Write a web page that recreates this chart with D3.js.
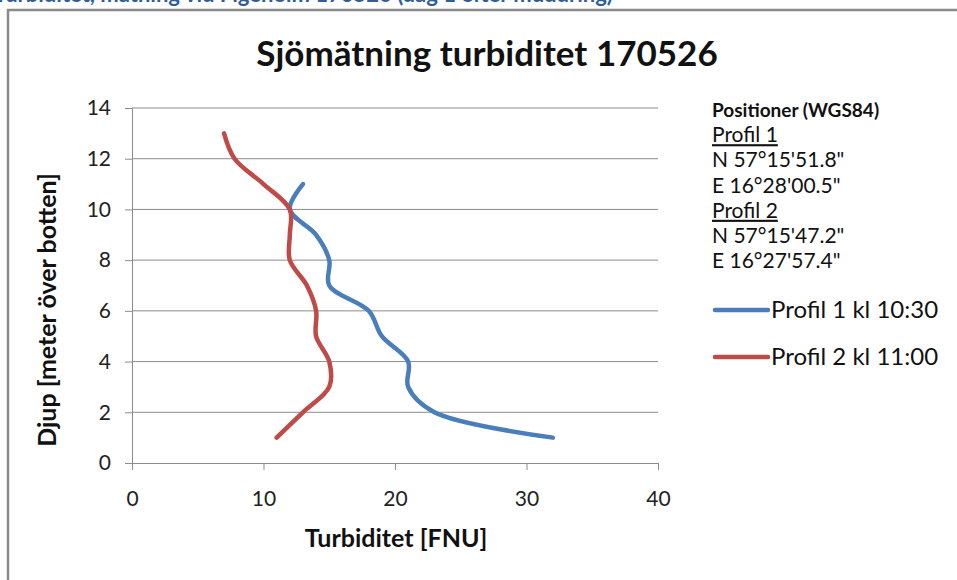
<!DOCTYPE html>
<html>
<head>
<meta charset="utf-8">
<script src="https://cdn.jsdelivr.net/npm/d3@7"></script>
<style>
  html, body { margin: 0; padding: 0; background: #fff; }
  svg { display: block; }
  text { font-family: Lato, "Open Sans", sans-serif; }
</style>
</head>
<body>
<svg id="chart" width="957" height="580"></svg>
<script>
// ---- data ----
const chartTitle = "Sjömätning turbiditet 170526";
const xAxisTitle = "Turbiditet [FNU]";
const yAxisTitle = "Djup [meter över botten]";
const xTicks = [0, 10, 20, 30, 40];
const yTicks = [0, 2, 4, 6, 8, 10, 12, 14];

const profil1Depth = [1, 2, 3, 4, 5, 6, 7, 8, 9, 10, 11];
const profil1Turb  = [32, 23, 21, 21, 19, 18, 15, 15, 14, 12, 13];
const profil2Depth = [1, 2, 3, 4, 5, 6, 7, 8, 9, 10, 11, 12, 13];
const profil2Turb  = [11, 13, 15, 15, 14, 14, 13.3, 12, 12, 12, 10, 7.8, 7];

const seriesNames = ["Profil 1 kl 10:30", "Profil 2 kl 11:00"];
const seriesColors = ["#4a7ebb", "#be4b48"];

const infoLines = [
  { t: "Positioner (WGS84)", bold: true },
  { t: "Profil 1", u: true },
  { t: "N 57°15'51.8\"" },
  { t: "E 16°28'00.5\"" },
  { t: "Profil 2", u: true },
  { t: "N 57°15'47.2\"" },
  { t: "E 16°27'57.4\"" }
];

// ---- drawing ----
const svg = d3.select("#chart");

// cropped caption above the frame
svg.append("text")
  .attr("x", -6).attr("y", 2)
  .attr("fill", "#2f5d9c").attr("font-weight", "bold").attr("font-size", 22)
  .text("Turbiditet, mätning vid Figeholm 170526 (dag 1 efter muddring)");

// frame
svg.append("path")
  .attr("d", "M8,580 L8,10 L957,10")
  .attr("fill", "none").attr("stroke", "#8a8a8a").attr("stroke-width", 2.5);

const x = d3.scaleLinear().domain([0, 40]).range([132, 658]);
const y = d3.scaleLinear().domain([0, 14]).range([463, 108]);

// gridlines
svg.append("g").selectAll("line").data(yTicks.filter(d => d > 0)).join("line")
  .attr("x1", x(0)).attr("x2", x(40))
  .attr("y1", d => y(d)).attr("y2", d => y(d))
  .attr("stroke", "#8c8c8c").attr("stroke-width", 1);

// y axis
const yAxis = svg.append("g").attr("transform", `translate(${x(0)},0)`)
  .call(d3.axisLeft(y).tickValues(yTicks).tickSize(7).tickPadding(14).tickFormat(d3.format("d")));
yAxis.select(".domain").attr("stroke", "#8c8c8c");
yAxis.selectAll(".tick line").attr("stroke", "#8c8c8c");
yAxis.selectAll(".tick text").attr("font-size", 21).attr("fill", "#222")
  .attr("font-family", "Lato, sans-serif");

// x axis
const xAxis = svg.append("g").attr("transform", `translate(0,${y(0)})`)
  .call(d3.axisBottom(x).tickValues(xTicks).tickSize(7).tickPadding(21).tickFormat(d3.format("d")));
xAxis.select(".domain").attr("stroke", "#8c8c8c");
xAxis.selectAll(".tick line").attr("stroke", "#8c8c8c");
xAxis.selectAll(".tick text").attr("font-size", 21).attr("fill", "#222")
  .attr("font-family", "Lato, sans-serif");

// title
svg.append("text")
  .attr("x", 487).attr("y", 66).attr("text-anchor", "middle")
  .attr("font-size", 35).attr("font-weight", "bold").attr("fill", "#111")
  .text(chartTitle);

// axis titles
svg.append("text")
  .attr("x", 396).attr("y", 547).attr("text-anchor", "middle")
  .attr("font-size", 25).attr("font-weight", "bold").attr("fill", "#111")
  .text(xAxisTitle);
svg.append("text")
  .attr("transform", "translate(56,310) rotate(-90)").attr("text-anchor", "middle")
  .attr("font-size", 25).attr("font-weight", "bold").attr("fill", "#111")
  .text(yAxisTitle);

// lines
const line = d3.line().x(d => x(d[0])).y(d => y(d[1])).curve(d3.curveCatmullRom.alpha(0.5));
const series = [
  profil1Depth.map((d, i) => [profil1Turb[i], d]),
  profil2Depth.map((d, i) => [profil2Turb[i], d])
];
series.forEach((s, i) => {
  svg.append("path").attr("d", line(s))
    .attr("fill", "none").attr("stroke", seriesColors[i])
    .attr("stroke-width", 4.5).attr("stroke-linecap", "round").attr("stroke-linejoin", "round");
});

// info block
infoLines.forEach((l, i) => {
  const t = svg.append("text")
    .attr("x", 712).attr("y", 117 + i * 25.2)
    .attr("font-size", l.bold ? 19 : 21).attr("fill", "#111")
    .attr("font-weight", l.bold ? "bold" : "normal")
    .text(l.t);
  if (l.u) t.attr("text-decoration", "underline");
});

// legend
seriesNames.forEach((n, i) => {
  const ly = 310 + i * 47;
  svg.append("line").attr("x1", 715).attr("x2", 768).attr("y1", ly).attr("y2", ly)
    .attr("stroke", seriesColors[i]).attr("stroke-width", 4.5).attr("stroke-linecap", "round");
  svg.append("text").attr("x", 771).attr("y", ly + 8)
    .attr("font-size", 24).attr("fill", "#111").text(n);
});
</script>
</body>
</html>
